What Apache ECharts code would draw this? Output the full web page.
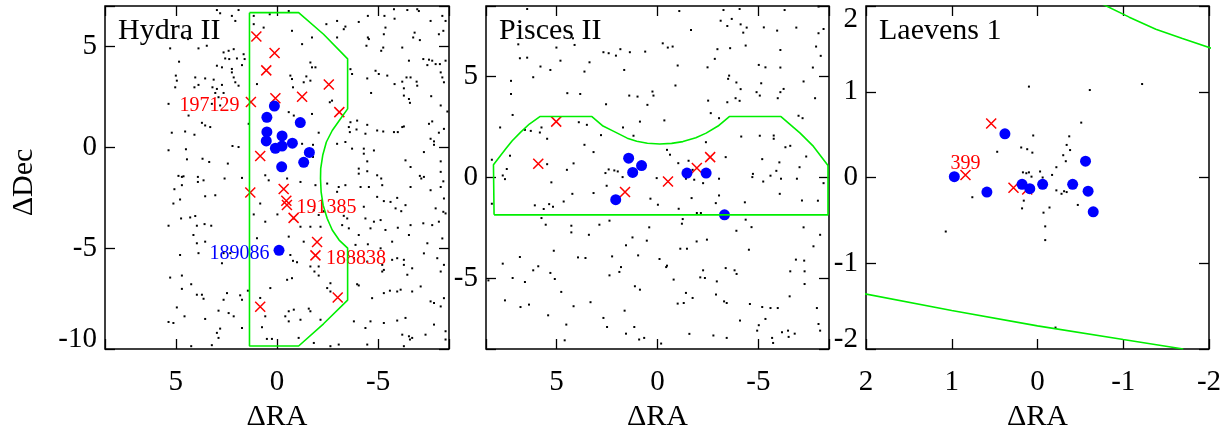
<!DOCTYPE html>
<html>
<head>
<meta charset="utf-8">
<script src="https://cdn.jsdelivr.net/npm/echarts@6/dist/echarts.min.js"></script>
<style>
html,body{margin:0;padding:0;background:#fff;}
#chart{width:1228px;height:425px;}
</style>
</head>
<body>
<div id="chart"></div>
<script>
// Panel titles
const panelNames = ['Hydra II', 'Pisces II', 'Laevens 1'];

// ---------- Hydra II (offsets in arcmin) ----------
const hydraField = [
  [2.97,6.8],[2.81,6.64],[1.9,6.8],[2.23,6.51],[2.06,6.26],[4.4,5.36],[5.28,4.9],[3.88,4.9],[3.47,5.03],
  [2.64,4.7],[2.39,4.78],[2.14,4.86],[2.56,4.4],[2.36,4.37],[1.98,4.4],[1.65,4.61],[1.6,4.37],[4.84,4.24],
  [2.97,4.04],[2.72,3.96],[2.23,3.88],[1.73,4.07],[5.0,3.55],[4.95,3.3],[4.04,3.46],[3.55,3.41],[3.13,3.35],
  [2.23,3.71],[2.14,3.46],[2.06,3.22],[1.9,3.05],[5.03,2.97],[4.08,2.97],[3.88,3.09],[3.19,2.97],[2.97,2.89],
  [2.72,3.09],[2.64,2.69],[3.05,2.69],[2.89,2.48],[0.99,3.13],[5.36,2.15],[3.22,2.15],[2.81,2.07],[4.37,1.57],
  [4.54,0.78],[4.08,0.62],[3.71,1.21],[3.55,1.08],[3.3,1.0],[5.2,0.72],[1.4,1.16],[5.36,-0.15],[4.5,-0.1],
  [4.45,-0.6],[3.68,-0.57],[3.35,-0.73],[2.43,-0.81],[2.2,0.06],[1.9,0.01],[1.73,-1.52],[4.87,-1.42],
  [4.7,-1.47],[4.62,-1.44],[3.91,-1.47],[3.91,-1.72],[3.63,-1.64],[2.59,-1.55],[5.07,-2.08],[4.7,-1.88],
  [4.79,-2.59],[5.12,-2.79],[3.55,-2.43],[3.05,-2.38],[4.74,-3.53],[4.29,-3.48],[4.04,-3.41],[5.36,-3.89],
  [3.96,-3.89],[3.58,-3.81],[3.25,-3.89],[4.13,-4.35],[3.96,-4.76],[3.55,-4.68],[3.88,-5.25],[4.79,-5.34],
  [2.64,-5.25],[2.31,-5.25],[2.72,-5.75],[5.28,-6.46],[4.7,-6.36],[4.7,-7.02],[4.24,-6.79],[3.96,-7.31],
  [3.71,-7.31],[3.63,-7.51],[2.64,-7.56],[2.47,-7.23],[1.82,-7.34],[1.73,-7.56],[1.44,-7.11],[4.95,-7.94],
  [4.57,-8.38],[5.36,-8.66],[5.12,-8.71],[3.55,-8.51],[2.89,-8.1],[2.39,-8.22],[2.14,-8.38],[1.73,-8.96],
  [2.81,-8.99],[2.97,-9.2],[2.89,-9.45],[3.22,-9.81],[4.24,-9.86],
  [1.15,6.51],[0.36,6.59],[1.15,6.1],[0.66,5.93],[0.58,-1.39],[0.41,-1.64],[0.83,-2.79],[1.15,-3.33],
  [0.58,-3.69],[0.99,-4.51],[0.33,-6.98],[0.83,-7.47],[0.58,-8.38],[0.74,-8.92],[0.5,-9.5],[0.25,-9.5],
  [-0.58,6.75],[-0.74,5.77],[-1.24,5.11],[-1.73,5.44],[-2.44,6.1],[-2.97,6.26],[-3.3,5.85],[-3.38,5.98],
  [-2.97,5.44],[-4.04,6.21],[-4.49,6.51],[-5.31,6.51],[-5.78,6.84],[-5.81,6.37],[-6.44,6.8],[-6.93,6.84],
  [-7.01,6.75],[-7.59,6.26],[-8.17,6.51],[-8.33,6.26],[-8.22,5.77],[-8.0,5.6],[-6.8,5.68],[-6.73,5.44],
  [-7.06,5.31],[-5.36,5.93],[-5.28,5.6],[-4.49,5.44],[-4.54,5.36],[-4.42,5.03],[-5.25,4.94],[-5.15,4.78],
  [-6.19,4.94],[-6.52,4.29],[-7.23,4.37],[-7.51,4.34],[-7.67,4.29],[-7.84,4.12],[-8.05,4.12],[-7.43,4.07],
  [-8.33,4.29],[-1.65,4.2],[-1.73,3.96],[-1.9,3.96],[-0.66,3.55],[-0.74,3.38],[-1.45,3.51],[-1.32,3.22],
  [-1.65,3.3],[-0.79,2.97],[-3.63,3.87],[-3.71,3.63],[-4.87,3.79],[-5.03,3.63],[-4.46,3.41],[-5.45,3.55],
  [-5.81,3.13],[-6.19,3.25],[-6.4,3.46],[-6.6,3.46],[-6.9,3.25],[-6.93,3.05],[-6.27,2.92],[-6.27,2.56],
  [-6.52,2.39],[-6.57,2.2],[-4.65,2.69],[-7.62,2.53],[-8.09,3.71],[-8.17,3.46],[-8.25,3.22],[-8.09,2.07],
  [-8.42,1.77],[-0.58,1.74],[-0.83,1.57],[-1.73,1.65],[-2.61,2.23],[-2.72,2.31],[-3.63,1.24],[-3.96,1.32],
  [-3.93,0.88],[-3.55,1.0],[-3.6,0.75],[-4.46,1.11],[-4.37,0.67],[-4.95,0.83],[-5.25,0.78],[-5.78,0.75],
  [-5.97,0.75],[-6.19,1.0],[-6.27,1.03],[-7.51,1.16],[-7.67,1.28],[-7.59,0.42],[-7.76,0.29],[-7.76,0.12],
  [-8.0,0.72],[-8.25,0.91],[-2.06,0.72],[-1.78,0.12],[-1.24,0.17],[-1.78,-0.48],[-2.97,0.17],[-3.38,0.26],
  [-3.71,-0.07],[-4.29,-0.07],[-4.29,-0.32],[-4.79,-0.16],[-4.46,-0.7],[-4.04,-1.06],[-4.04,-1.31],
  [-4.46,-1.19],[-4.95,-1.39],[-5.15,-1.55],[-5.2,-1.88],[-6.35,-0.65],[-6.6,-0.98],[-7.26,-0.24],
  [-8.09,-0.7],[-8.09,-1.22],[-7.06,-1.42],[-7.13,-1.55],[-7.26,-1.47],[-8.22,-1.69],[-8.09,-1.97],
  [-0.5,-1.55],[-1.16,-1.72],[-1.9,-1.88],[-2.48,-1.8],[-3.05,-1.97],[-3.38,-1.88],[-2.97,-2.21],
  [-4.13,-1.97],[-4.54,-1.97],[-4.95,-2.46],[-5.28,-2.67],[-5.61,-2.71],[-5.94,-2.51],[-6.6,-1.97],
  [-7.59,-2.13],[-8.25,-2.54],[-4.29,-2.95],[-5.86,-3.03],[-6.35,-2.87],[-6.14,-3.17],[-7.84,-3.03],
  [-8.22,-3.2],[-8.33,-3.28],[-1.82,-3.12],[-2.06,-3.36],[-2.31,-3.17],[-3.3,-3.4],[-3.47,-3.53],
  [-3.22,-3.86],[-3.55,-4.02],[-4.37,-3.53],[-4.79,-3.69],[-5.12,-3.61],[-0.02,-3.33],[-0.83,-3.53],
  [-1.16,-3.94],[-1.65,-3.94],[-2.15,-3.94],[-4.04,-4.35],[-3.88,-4.84],[-4.62,-4.02],[-5.36,-4.1],
  [-5.97,-3.99],[-6.52,-4.35],[-6.6,-3.86],[-7.23,-3.77],[-7.67,-3.86],[-8.0,-3.69],[-8.17,-4.52],
  [-7.43,-4.76],[-5.69,-4.68],[-5.12,-5.01],[-4.49,-4.81],[-0.58,-4.43],[-1.32,-4.68],[-0.66,-5.34],
  [-0.99,-5.7],[-0.79,-5.63],[-1.65,-5.91],[-2.06,-5.91],[-1.85,-6.16],[-3.8,-5.5],[-4.46,-5.67],
  [-5.2,-5.83],[-5.2,-6.16],[-5.28,-6.08],[-5.69,-5.58],[-5.94,-5.5],[-6.27,-5.58],[-6.27,-5.83],
  [-6.68,-6.0],[-6.44,-6.32],[-7.26,-5.26],[-7.92,-5.5],[-8.09,-6.16],[-8.25,-5.83],[-0.74,-6.49],
  [-0.5,-6.57],[-2.06,-6.36],[-2.48,-6.98],[-2.64,-7.15],[-2.64,-6.74],[-3.96,-6.79],[-4.04,-6.85],
  [-4.7,-7.48],[-5.28,-7.23],[-5.58,-7.11],[-5.94,-7.15],[-6.11,-7.06],[-6.68,-7.15],[-7.1,-6.9],
  [-7.59,-7.64],[-7.76,-7.72],[-8.09,-7.89],[-8.25,-7.48],[-0.58,-8.13],[-0.41,-8.38],[-0.83,-8.05],
  [-1.57,-8.0],[-1.65,-8.13],[-1.16,-8.55],[-2.15,-8.55],[-0.58,-8.63],[-1.07,-9.45],[-1.82,-9.7],
  [-2.64,-9.86],[-3.05,-9.78],[-3.8,-8.63],[-4.37,-8.96],[-4.62,-8.63],[-5.28,-8.71],[-5.94,-8.59],
  [-6.35,-8.46],[-6.57,-9.53],[-6.19,-9.29],[-6.52,-9.37],[-6.68,-9.45],[-7.34,-9.29],[-7.76,-8.79],
  [-8.33,-9.12],[-8.33,-9.53],[-4.46,-9.78],[-6.27,-9.86]
];
const hydraMembers = [
  [0.13,2.04],[0.5,1.48],[-1.15,1.22],[0.5,0.76],[0.53,0.31],[-0.25,0.56],[-0.76,0.2],[0.08,-0.05],
  [-0.25,0.06],[-1.6,-0.26],[-1.32,-0.75],[-0.23,-0.97],[-0.1,-5.11,'189086']
];
const hydraNonMembers = [
  [1.02,5.49],[0.12,4.67],[0.53,3.81],[-2.56,3.11],[-1.24,2.5],[0.08,2.43],[1.29,2.24,'197129'],
  [-3.08,1.74],[0.83,-0.43],[-0.33,-2.07],[1.32,-2.24],[-0.46,-2.65],[-0.49,-2.86,'191385'],
  [-0.82,-3.5],[-1.98,-4.7],[-1.9,-5.36,'188838'],[-3.0,-7.45],[0.83,-7.91]
];
const hydraMask = [
  [1.36,6.67],[-1.07,6.67],[-2.3,5.6],[-3.49,4.38],[-3.49,1.9],[-3.14,1.41],[-2.73,0.83],[-2.44,0.26],
  [-2.26,-0.4],[-2.16,-1.06],[-2.15,-1.55],[-2.18,-2.21],[-2.28,-2.87],[-2.48,-3.53],[-2.73,-4.1],
  [-3.07,-4.6],[-3.49,-5.0],[-3.49,-7.58],[-2.3,-8.75],[-1.07,-9.85],[1.36,-9.85],[1.36,6.67]
];

// ---------- Pisces II ----------
const piscesField = [
  [6.46,8.35],[6.9,6.6],[6.82,5.91],[6.46,5.94],[5.8,5.5],[5.31,5.33],[6.16,4.97],[5.01,6.44],[4.81,5.79],
  [4.11,6.57],[4.19,6.9],[2.68,6.21],[2.42,6.16],[2.06,6.04],[1.84,6.36],[1.37,6.21],[0.61,6.24],[1.65,5.33],
  [3.62,5.25],[3.37,5.71],[7.26,4.79],[7.26,4.14],[4.47,4.18],[3.83,4.14],[2.55,3.63],[1.4,4.06],[0.99,4.01],
  [0.5,3.6],[0.25,4.26],[0.2,4.06],[7.18,3.1],[7.8,2.48],[6.57,2.36],[6.28,2.31],[5.83,2.23],[5.75,2.48],
  [5.47,1.92],[3.9,2.74],[3.5,2.61],[3.62,1.62],[3.17,1.26],[2.8,2.1],[1.71,2.48],[1.19,2.07],[0.87,2.77],
  [8.21,0.88],[7.31,1.08],[7.47,0.42],[7.67,0.1],[7.56,-0.08],[5.47,0.66],[5.26,-0.24],[4.49,0.38],[4.16,0.7],
  [2.58,0.22],[2.42,0.4],[2.14,0.35],[1.97,0.3],[1.73,0.02],[2.52,-0.41],[0.04,-0.03],[4.22,-0.81],
  [4.65,-1.19],[3.17,-0.77],[6.08,-1.38],[5.64,-1.56],[5.37,-1.32],[5.18,-1.45],[8.21,-1.3],[5.75,-2.01],
  [5.54,-2.34],[4.27,-2.39],[4.27,-2.72],[3.4,-2.84],[2.88,-2.34],[2.38,-2.14],[1.24,-2.97],[0.41,-2.47],
  [0.53,-3.13],[1.56,-3.36],[5.14,-3.63],[6.82,-3.94],[7.67,-4.27],[5.91,-4.4],[6.16,-4.6],[5.31,-4.73],
  [5.09,-5.03],[7.18,-4.98],[6.57,-5.18],[8.38,-5.1],[3.94,-3.96],[3.57,-3.99],[2.25,-3.91],[0.96,-3.86],
  [1.81,-4.44],[1.89,-4.68],[2.38,-4.85],[1.12,-5.39],[0.87,-5.56],[4.77,-5.67],[7.56,-6.09],[6.79,-6.42],
  [6.37,-6.3],[4.16,-6.38],[3.32,-6.18],[5.42,-6.83],[4.52,-7.29],[2.68,-6.96],[2.5,-7.41],[1.63,-6.6],
  [1.56,-7.74],[1.15,-7.41],[0.66,-7.95],[0.91,-8.03],[4.6,-8.07],[0.35,-1.05],
  [-1.08,8.25],[-3.27,8.3],[-4.07,8.35],[-6.3,8.3],[-7.98,8.47],[-3.13,7.77],[-3.68,7.86],[-3.46,7.51],
  [-4.12,7.59],[-4.42,7.43],[-4.25,7.18],[-5.27,7.44],[-5.93,7.28],[-6.88,7.43],[-8.23,7.36],[-7.98,7.15],
  [-1.66,7.31],[-0.26,6.65],[-0.51,6.44],[-0.75,6.49],[-2.97,6.36],[-3.6,6.41],[-4.37,6.54],[-6.09,6.32],
  [-7.86,6.49],[-8.09,6.03],[-2.84,5.88],[-1.0,5.55],[-2.48,5.46],[-5.02,5.58],[-5.35,5.46],[-6.09,5.45],
  [-7.7,5.45],[-3.55,5.05],[-3.5,4.89],[-3.91,4.71],[-5.14,4.67],[-0.89,4.56],[-4.12,4.38],[-4.91,4.23],
  [-5.07,4.06],[-6.25,4.39],[-6.09,4.23],[-5.96,3.93],[-7.24,4.76],[-7.81,3.93],[-2.51,3.81],[-3.46,3.73],
  [-3.87,3.93],[-4.07,3.8],[-2.64,3.19],[-3.05,2.94],[-0.34,2.83],[-6.99,3.06],[-7.19,2.94],[-4.15,2.03],
  [-5.07,2.07],[-5.76,2.08],[-5.76,1.92],[-6.34,1.5],[-6.58,1.57],[-2.4,1.75],[-0.47,1.37],[-0.62,1.13],
  [-3.38,1.01],[-5.19,0.91],[-6.04,0.75],[-5.89,0.33],[-5.6,0.09],[-6.12,-0.06],[-6.91,-0.06],[-7.37,1.04],
  [-7.04,0.51],[-4.73,0.18],[-4.7,0.02],[-5.24,-0.2],[-8.23,-0.28],[-1.03,0.71],[-1.54,0.83],[-1.74,0.38],
  [-1.41,-0.06],[-1.82,-0.11],[-2.26,-0.28],[-3.05,-0.06],[-1.69,-1.02],[-3.05,-0.89],[-2.89,-1.27],
  [-4.33,-1.23],[-6.06,-0.81],[-7.16,-1.14],[-7.95,-1.15],[-1.05,-1.55],[-1.95,-1.76],[-2.15,-1.76],
  [-0.02,-1.35],[-1.25,-2.06],[-1.21,-2.29],[-4.37,-2.09],[-4.66,-2.46],[-3.91,-2.64],[-7.24,-2.47],
  [-8.06,-2.84],[-1.94,-3.17],[-2.45,-3.08],[-1.13,-3.53],[-1.46,-3.53],[-4.53,-3.58],[-7.73,-3.41],
  [-0.1,-4.04],[-0.47,-4.37],[-0.43,-4.44],[-0.8,-5.06],[-2.26,-4.6],[-2.12,-4.95],[-2.35,-4.98],
  [-2.94,-5.15],[-3.38,-4.49],[-3.82,-4.6],[-3.92,-4.78],[-6.86,-4.07],[-7.27,-4.12],[-6.58,-4.65],
  [-7.29,-4.65],[-7.29,-5.28],[-1.41,-5.72],[-1.74,-5.97],[-1.0,-6.25],[-1.3,-6.22],[-2.9,-5.8],
  [-3.3,-6.14],[-3.43,-6.22],[-4.58,-6.27],[-5.19,-6.42],[-5.6,-6.47],[-5.96,-6.47],[-6.55,-5.89],
  [-7.9,-6.47],[-4.09,-7.09],[-5.35,-7.01],[-5.02,-7.32],[-4.94,-7.59],[-6.17,-7.67],[-6.47,-7.59],
  [-6.8,-7.74],[-6.5,-7.9],[-7.98,-7.26],[-8.06,-7.59],[-5.68,-7.95],[-5.73,-8.2],[-3.43,-7.95],
  [-2.77,-7.83],[-1.58,-7.75],[-0.18,-8.23]
];
const piscesMembers = [
  [1.43,0.96],[0.79,0.59],[1.23,0.25],[2.07,-1.1],[-1.46,0.22],[-2.41,0.22],[-3.32,-1.85]
];
const piscesNonMembers = [
  [5.02,2.77],[5.91,0.68],[1.61,-0.72],[-0.52,-0.2],[-1.95,0.47],[-2.61,1.01]
];
const piscesMask = [
  [8.1,-1.85],[-8.45,-1.85],[-8.45,0.6],[-7.73,1.54],[-7.07,2.2],[-6.12,3.02],[-3.56,3.02],[-3.0,2.55],
  [-2.41,2.2],[-1.9,1.97],[-1.26,1.78],[-0.7,1.69],[-0.11,1.66],[0.5,1.7],[1.03,1.8],[1.5,1.95],
  [2.19,2.3],[2.7,2.55],[3.25,3.02],[5.83,3.02],[6.35,2.65],[6.78,2.25],[7.2,1.82],[7.52,1.42],
  [8.13,0.63],[8.1,-1.85]
];

// ---------- Laevens 1 ----------
const laevensField = [
  [0.1,1.06],[-0.61,1.02],[-1.22,1.09],[-0.51,0.64],[0.05,0.49],[-0.37,0.48],[0.19,0.35],[0.12,0.33],
  [0.06,0.29],[0.47,0.3],[-0.34,0.38],[-0.38,0.32],[-0.3,0.26],[-0.33,0.19],[-0.22,0.12],[-0.17,0.03],
  [0.17,0.06],[0.13,0.05],[0.1,0.06],[0.07,0.01],[-0.03,0.07],[-0.06,0.0],[0.76,-0.23],[1.07,-0.63],
  [0.16,-0.27],[0.18,-0.36],[-0.07,-0.41],[-0.14,-0.35],[-0.09,-0.57],[-0.09,-0.73],[-0.22,-0.15],
  [-0.28,-0.19],[-0.31,-0.16],[-0.34,-0.17],[-0.47,-0.32],[-0.21,-1.75]
];
const laevensMembers = [
  [0.97,0.01],[0.59,-0.17],[0.38,0.51],[0.18,-0.08],[0.09,-0.13],[-0.06,-0.08],[-0.41,-0.08],
  [-0.56,0.19],[-0.59,-0.16],[-0.65,-0.4]
];
const laevensNonMembers = [
  [0.54,0.63],[0.84,0.03,'399'],[0.28,-0.12],[0.12,-0.14]
];
const laevensMaskUpper = [[-0.7,2.05],[-1.07,1.87],[-1.38,1.73],[-1.69,1.62],[-2.05,1.5]];
const laevensMaskLower = [[2.05,-1.35],[1.0,-1.55],[0.0,-1.73],[-1.0,-1.89],[-1.7,-2.0]];

// Axis ranges and tick steps
const xRanges = [[-8.5,8.5],[-8.5,8.5],[-2,2]];
const yRanges = [[-10,7],[-8.5,8.5],[-2,2]];
const tickSteps = [5,5,1];

// ---------- styling ----------
const serif = 'Liberation Serif';
const GREEN = '#00ee00', RED = '#ff0000', BLUE = '#0000ff';
const tagPlacement = {
  '197129':{position:'left', offset:[0,4]},
  '191385':{position:'right', offset:[-2,3]},
  '188838':{position:'right', offset:[-1,3]},
  '189086':{position:'left', offset:[0,3]},
  '399':{position:'top', offset:[0,10]}
};
const CROSS = 'path://M0,0L10,10M10,0L0,10';

const gridBoxes = [
  {left:105, top:6, width:344, height:343},
  {left:486, top:6, width:343, height:343},
  {left:866, top:6, width:343, height:343}
];

function isOnStep(v, step){
  return Math.abs(Math.round(v / step) * step - v) < 1e-6;
}
function tickFmt(step){
  return v => isOnStep(v, step) ? String(Math.round(v)) : '';
}
function axisRangeOpts(range, step){
  const o = {min:range[0], max:range[1]};
  // interval only when min sits on the tick grid; otherwise let splitNumber land on the step
  if (isOnStep(range[0], step)) o.interval = step;
  else o.splitNumber = Math.round((range[1] - range[0]) / step);
  return o;
}

const xAxis = [], yAxis = [];
const tickStyle = {inside:true, length:10, lineStyle:{color:'#000', width:1.3}};
const noLine = {show:false, onZero:false};
gridBoxes.forEach((g, i) => {
  const xr = axisRangeOpts(xRanges[i], tickSteps[i]);
  const yr = axisRangeOpts(yRanges[i], tickSteps[i]);
  xAxis.push(Object.assign({
    gridIndex:i, type:'value', inverse:true, position:'bottom',
    axisLine:noLine, splitLine:{show:false}, axisTick:tickStyle,
    axisLabel:{formatter:tickFmt(tickSteps[i]), margin:19, color:'#000', fontFamily:serif, fontSize:29},
    name:'ΔRA', nameLocation:'middle', nameGap:46,
    nameTextStyle:{fontFamily:serif, fontSize:30, color:'#000'}
  }, xr));
  xAxis.push(Object.assign({
    gridIndex:i, type:'value', inverse:true, position:'top',
    axisLine:noLine, splitLine:{show:false}, axisTick:tickStyle, axisLabel:{show:false}
  }, xr));
  yAxis.push(Object.assign({
    gridIndex:i, type:'value', position:'left',
    axisLine:noLine, splitLine:{show:false}, axisTick:tickStyle,
    axisLabel:{formatter:tickFmt(tickSteps[i]), margin:8, color:'#000', fontFamily:serif, fontSize:29,
      lineHeight:19, padding:[4,0,0,0],
      verticalAlignMinLabel:'bottom', verticalAlignMaxLabel:'top'},
    name: i === 0 ? 'ΔDec' : '', nameLocation:'middle', nameGap:66, nameRotate:90,
    nameTextStyle:{fontFamily:serif, fontSize:30, color:'#000', padding:[0,10,0,0]}
  }, yr));
  yAxis.push(Object.assign({
    gridIndex:i, type:'value', position:'right',
    axisLine:noLine, splitLine:{show:false}, axisTick:tickStyle, axisLabel:{show:false}
  }, yr));
});

function fieldSeries(i, pts){
  return {type:'scatter', xAxisIndex:2*i, yAxisIndex:2*i, data:pts, symbol:'rect', symbolSize:2,
    itemStyle:{color:'#000', opacity:1}, silent:true, z:1};
}
function taggedItems(pts, color){
  return pts.map(p => {
    const tag = p[2];
    const item = {value:[p[0], p[1]]};
    if (tag) item.label = Object.assign({show:true, formatter:tag, distance:4,
      color:color, fontFamily:serif, fontSize:20}, tagPlacement[tag]);
    return item;
  });
}
function redSeries(i, pts){
  return {type:'scatter', xAxisIndex:2*i, yAxisIndex:2*i, data:taggedItems(pts, RED),
    symbol:CROSS, symbolSize:10,
    itemStyle:{color:'none', borderColor:RED, borderWidth:1.5, opacity:1}, z:3};
}
function blueSeries(i, pts){
  return {type:'scatter', xAxisIndex:2*i, yAxisIndex:2*i, data:taggedItems(pts, BLUE),
    symbol:'circle', symbolSize:11, itemStyle:{color:BLUE, opacity:1}, z:4};
}
function maskSeries(i, pts){
  return {type:'line', xAxisIndex:2*i, yAxisIndex:2*i, data:pts, showSymbol:false, symbol:'none',
    lineStyle:{color:GREEN, width:1.6}, clip:true, z:5, silent:true};
}

const series = [
  fieldSeries(0, hydraField), redSeries(0, hydraNonMembers), blueSeries(0, hydraMembers), maskSeries(0, hydraMask),
  fieldSeries(1, piscesField), redSeries(1, piscesNonMembers), blueSeries(1, piscesMembers), maskSeries(1, piscesMask),
  fieldSeries(2, laevensField), redSeries(2, laevensNonMembers), blueSeries(2, laevensMembers),
  maskSeries(2, laevensMaskUpper), maskSeries(2, laevensMaskLower)
];

const chart = echarts.init(document.getElementById('chart'), null, {renderer:'canvas'});
chart.setOption({
  animation:false,
  backgroundColor:'#fff',
  title: panelNames.map((t, i) => ({
    text:t, left:gridBoxes[i].left + 13, top:16, padding:0,
    textStyle:{fontFamily:serif, fontSize:30, fontWeight:'normal', color:'#000'}
  })),
  grid: gridBoxes.map(g => Object.assign({show:true, borderColor:'#000', borderWidth:1.5,
    backgroundColor:'transparent', containLabel:false, outerBoundsMode:'none'}, g)),
  xAxis, yAxis, series
});
</script>
</body>
</html>
